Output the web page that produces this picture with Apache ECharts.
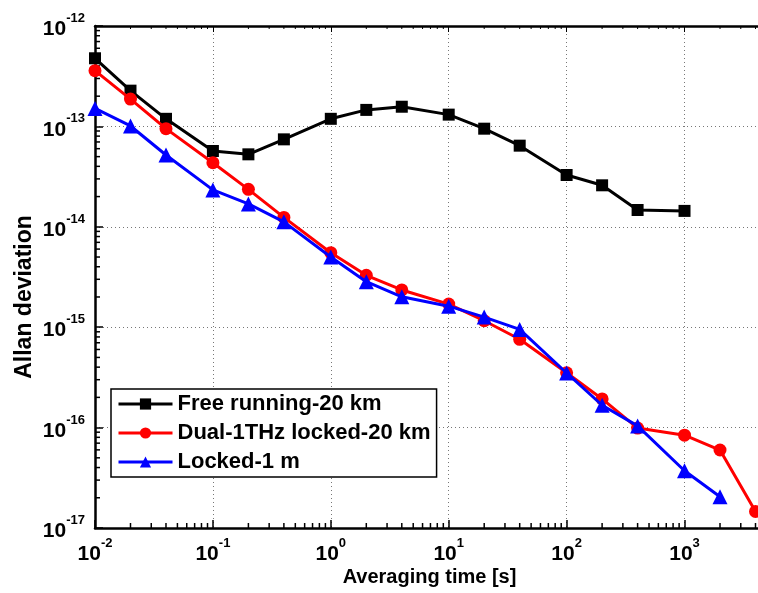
<!DOCTYPE html>
<html>
<head>
<meta charset="utf-8">
<script src="https://cdn.jsdelivr.net/npm/echarts@6/dist/echarts.min.js"></script>
<style>
  html, body { margin: 0; padding: 0; background: #fff; }
  #chart { width: 758px; height: 593px; }
</style>
</head>
<body>
<div id="chart"></div>
<script>
// averaging times [s]
var tauFree = [0.01, 0.02, 0.04, 0.1, 0.2, 0.4, 1, 2, 4, 10, 20, 40, 100, 200, 400, 1000];
var tauDual = [0.01, 0.02, 0.04, 0.1, 0.2, 0.4, 1, 2, 4, 10, 20, 40, 100, 200, 400, 1000, 2000, 4000];
var tauLocked = [0.01, 0.02, 0.04, 0.1, 0.2, 0.4, 1, 2, 4, 10, 20, 40, 100, 200, 400, 1000, 2000];

// allan deviation
var adevFree = [4.77e-13, 2.27e-13, 1.19e-13, 5.69e-14, 5.27e-14, 7.43e-14, 1.19e-13, 1.46e-13,
  1.57e-13, 1.31e-13, 9.49e-14, 6.43e-14, 3.28e-14, 2.59e-14, 1.47e-14, 1.44e-14];
var adevDual = [3.59e-13, 1.87e-13, 9.5e-14, 4.35e-14, 2.36e-14, 1.24e-14, 5.52e-15, 3.29e-15,
  2.35e-15, 1.70e-15, 1.16e-15, 7.58e-16, 3.52e-16, 1.93e-16, 9.9e-17, 8.4e-17, 5.98e-17, 1.46e-17];
var adevLocked = [1.51e-13, 1.01e-13, 5.19e-14, 2.33e-14, 1.69e-14, 1.12e-14, 5.0e-15, 2.84e-15,
  2.01e-15, 1.62e-15, 1.26e-15, 9.5e-16, 3.5e-16, 1.67e-16, 1.04e-16, 3.72e-17, 2.05e-17];

var seriesNames = ['Free running-20 km', 'Dual-1THz locked-20 km', 'Locked-1 m'];

// axis ranges and minor tick multipliers
var xMin = 0.01, xMax = 4200;
var yMin = 1e-17, yMax = 1e-12;
var minorMult = [2, 3, 4, 5, 6, 7, 8, 9];

var FONT = "'Liberation Sans', Arial, sans-serif";

function pairs(xs, ys) {
  return xs.map(function (x, i) { return [x, ys[i]]; });
}

// minor log ticks: [x, y, side] side 0 = bottom, 1 = top, 2 = left
function minorTicks() {
  var out = [];
  for (var e = -2; e <= 3; e++) {
    minorMult.forEach(function (m) {
      var v = m * Math.pow(10, e);
      if (v < xMax) { out.push([v, yMin, 0]); out.push([v, yMax, 1]); }
    });
  }
  for (var k = -17; k < -12; k++) {
    minorMult.forEach(function (m) {
      out.push([xMin, m * Math.pow(10, k), 2]);
    });
  }
  return out;
}

function powLabel(v) {
  var p = Math.round(Math.log10(v));
  return '{b|10}{s|' + p + '}';
}

var richPow = {
  b: { fontFamily: FONT, fontWeight: 'bold', fontSize: 21, color: '#000', lineHeight: 28, verticalAlign: 'bottom' },
  s: { fontFamily: FONT, fontWeight: 'bold', fontSize: 13, color: '#000', lineHeight: 28, verticalAlign: 'top' }
};

var dotted = { show: true, lineStyle: { color: '#777', width: 1, type: [1, 3] } };

var dom = document.getElementById('chart');
var myChart = echarts.init(dom, null, { renderer: 'canvas' });

var option = {
  animation: false,
  backgroundColor: '#fff',
  grid: { left: 95, right: -2, top: 26, bottom: 65, containLabel: false },
  legend: {
    orient: 'vertical',
    left: 111,
    top: 389,
    data: seriesNames,
    backgroundColor: '#fff',
    borderColor: '#000',
    borderWidth: 1.5,
    borderRadius: 0,
    padding: [4, 6, 4, 6],
    itemWidth: 54,
    itemHeight: 14,
    itemGap: 7,
    lineStyle: { width: 3 },
    textStyle: { fontFamily: FONT, fontWeight: 'bold', fontSize: 22, color: '#000' }
  },
  xAxis: [{
    type: 'log',
    logBase: 10,
    min: xMin,
    max: xMax,
    name: 'Averaging time [s]',
    nameLocation: 'middle',
    nameGap: 39,
    nameMoveOverlap: false,
    nameTextStyle: { fontFamily: FONT, fontWeight: 'bold', fontSize: 20, color: '#000', padding: [0, 0, 0, 6] },
    axisLine: { show: true, lineStyle: { color: '#000', width: 2.5 } },
    axisTick: { show: true, inside: true, length: 8, lineStyle: { color: '#000', width: 1.5 } },
    axisLabel: { show: true, margin: 9, showMaxLabel: false, formatter: powLabel, rich: richPow },
    splitLine: dotted,
    minorTick: { show: false },
    minorSplitLine: { show: false }
  }, {
    type: 'log',
    logBase: 10,
    min: xMin,
    max: xMax,
    position: 'top',
    axisLine: { show: true, lineStyle: { color: '#000', width: 2.5 } },
    axisTick: { show: true, inside: true, length: 6, lineStyle: { color: '#000', width: 1 } },
    axisLabel: { show: false },
    splitLine: { show: false }
  }],
  yAxis: {
    type: 'log',
    logBase: 10,
    min: yMin,
    max: yMax,
    name: 'Allan deviation',
    nameLocation: 'middle',
    nameGap: 59,
    nameMoveOverlap: false,
    nameTextStyle: { fontFamily: FONT, fontWeight: 'bold', fontSize: 23, color: '#000', padding: [0, 40, 0, 0] },
    axisLine: { show: true, lineStyle: { color: '#000', width: 2.5 } },
    axisTick: { show: true, inside: true, length: 8, lineStyle: { color: '#000', width: 1.5 } },
    axisLabel: { show: true, margin: 10, formatter: powLabel, rich: richPow },
    splitLine: dotted
  },
  series: [{
    type: 'custom',
    name: 'minor',
    silent: true,
    clip: false,
    data: minorTicks(),
    renderItem: function (params, api) {
      var p = api.coord([api.value(0), api.value(1)]);
      var side = api.value(2);
      var len = 5;
      var end = side === 0 ? [p[0], p[1] - len] : side === 1 ? [p[0], p[1] + 3] : [p[0] + len, p[1]];
      return {
        type: 'line',
        shape: { x1: p[0], y1: p[1], x2: end[0], y2: end[1] },
        style: { stroke: '#000', lineWidth: side === 1 ? 1 : 1.5 }
      };
    },
    z: 1
  }, {
    name: seriesNames[0],
    type: 'line',
    data: pairs(tauFree, adevFree),
    symbol: 'rect',
    symbolSize: 12,
    lineStyle: { color: '#000', width: 3 },
    itemStyle: { color: '#000' },
    z: 3
  }, {
    name: seriesNames[1],
    type: 'line',
    data: pairs(tauDual, adevDual),
    symbol: 'circle',
    symbolSize: 13,
    lineStyle: { color: '#ff0000', width: 3 },
    itemStyle: { color: '#ff0000' },
    z: 4
  }, {
    name: seriesNames[2],
    type: 'line',
    data: pairs(tauLocked, adevLocked),
    symbol: 'triangle',
    symbolSize: 15,
    lineStyle: { color: '#0000ff', width: 3 },
    itemStyle: { color: '#0000ff' },
    z: 5
  }]
};

myChart.setOption(option);
</script>
</body>
</html>
